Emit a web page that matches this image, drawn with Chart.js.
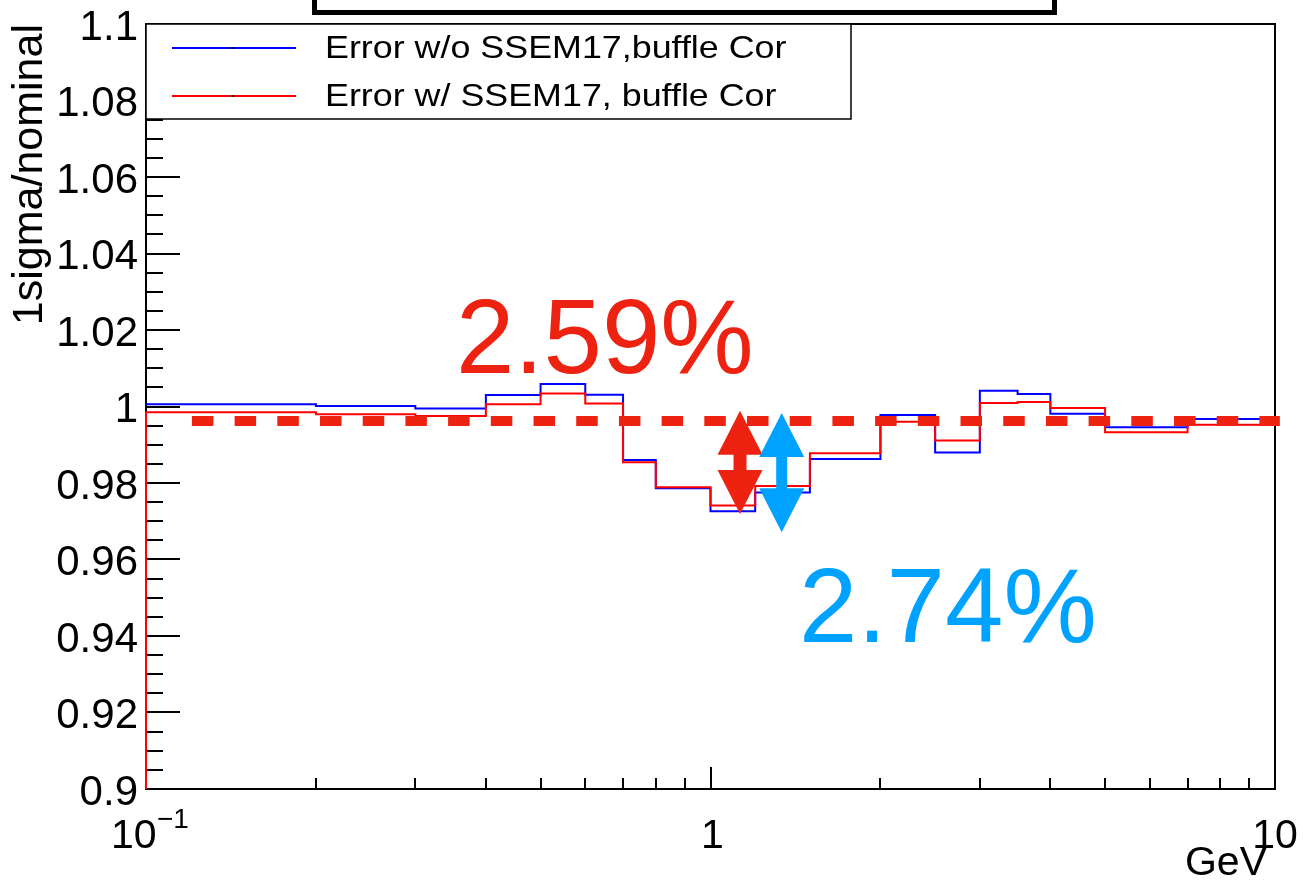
<!DOCTYPE html>
<html>
<head>
<meta charset="utf-8">
<title>1sigma/nominal</title>
<script src="https://cdn.jsdelivr.net/npm/chart.js@4.4.1/dist/chart.umd.min.js"></script>
<style>
  html, body { margin: 0; padding: 0; background: #fff; }
  #graphe { display: block; }
</style>
</head>
<body>
<canvas id="graphe" width="1303" height="880"></canvas>
<script>
// bin edges in GeV, then 1sigma/nominal for each bin
const edges = [0.1, 0.2, 0.3, 0.4, 0.5, 0.6, 0.7, 0.8, 1.0, 1.2, 1.5, 2.0, 2.5, 3.0, 3.5, 4.0, 5.0, 7.0, 10.0]
const without_ssem = [1.0006, 1.0001, 0.9995, 1.0030, 1.0059, 1.0031, 0.9860, 0.9786, 0.9726, 0.9775, 0.9863, 0.9978, 0.9880, 1.0041, 1.0033, 0.9981, 0.9946, 0.9967]
const with_ssem = [0.9985, 0.9980, 0.9975, 1.0006, 1.0034, 1.0008, 0.9854, 0.9789, 0.9741, 0.9792, 0.9878, 0.9960, 0.9911, 1.0009, 1.0012, 0.9996, 0.9933, 0.9952]
const series_names = ['Error w/o SSEM17,buffle Cor', 'Error w/ SSEM17, buffle Cor']

const y_min = 0.9
const y_max = 1.1
const x_minor_ticks = [0.2, 0.3, 0.4, 0.5, 0.6, 0.7, 0.8, 0.9, 2, 3, 4, 5, 6, 7, 8, 9]
const x_major_ticks = [1]
const x_tick_labels = [
    { value: 0.1, text: '10', sup: '\u22121' },
    { value: 1, text: '1', sup: '' },
    { value: 10, text: '10', sup: '' }
]

// reference level (dashed) and the two spreads written on the plot
const ref_level = 0.9962
const spread_labels = ['2.59%', '2.74%']

const font = '"Liberation Sans", Arial, Helvetica, sans-serif'
const red = '#ff0000'
const blue = '#0000ff'
const note_red = '#ee2211'
const note_blue = '#00a2ff'

function histo(values, from_bottom) {
    const pts = []
    if (from_bottom) pts.push({ x: edges[0], y: y_min })
    values.forEach((v, i) => pts.push({ x: edges[i], y: v }))
    pts.push({ x: edges[edges.length - 1], y: values[values.length - 1] })
    return pts
}

function line(ctx, x1, y1, x2, y2) {
    ctx.beginPath()
    ctx.moveTo(x1, y1)
    ctx.lineTo(x2, y2)
    ctx.stroke()
}

// vertical double arrow between two y values, at x value xv
function double_arrow(ctx, sx, sy, xv, y_top, y_bot, color, shaft) {
    const cx = sx.getPixelForValue(xv)
    const y1 = sy.getPixelForValue(y_top)
    const y2 = sy.getPixelForValue(y_bot)
    const hl = 44, hw = 22.5
    ctx.fillStyle = color
    ctx.beginPath()
    ctx.moveTo(cx, y1)
    ctx.lineTo(cx + hw, y1 + hl)
    ctx.lineTo(cx + shaft, y1 + hl)
    ctx.lineTo(cx + shaft, y2 - hl)
    ctx.lineTo(cx + hw, y2 - hl)
    ctx.lineTo(cx, y2)
    ctx.lineTo(cx - hw, y2 - hl)
    ctx.lineTo(cx - shaft, y2 - hl)
    ctx.lineTo(cx - shaft, y1 + hl)
    ctx.lineTo(cx - hw, y1 + hl)
    ctx.closePath()
    ctx.fill()
}

const frame_plugin = {
    id: 'frame_plugin',
    beforeDatasetsDraw(chart) {
        const ctx = chart.ctx
        const { left, right, top, bottom } = chart.chartArea
        const sx = chart.scales.x
        const sy = chart.scales.y
        ctx.save()
        ctx.strokeStyle = '#000'
        ctx.lineWidth = 2
        ctx.strokeRect(left, top, right - left, bottom - top)
        // ticks go inside the frame, ROOT style
        sy.ticks.forEach(t => {
            const py = Math.round(sy.getPixelForValue(t.value))
            line(ctx, left, py, left + (t.label ? 34 : 17), py)
        })
        x_minor_ticks.forEach(v => {
            const px = Math.round(sx.getPixelForValue(v))
            line(ctx, px, bottom, px, bottom - 11)
        })
        x_major_ticks.forEach(v => {
            const px = Math.round(sx.getPixelForValue(v))
            line(ctx, px, bottom, px, bottom - 22)
        })
        ctx.restore()
    },
    afterDatasetsDraw(chart) {
        const ctx = chart.ctx
        const { left, top, bottom } = chart.chartArea
        const sx = chart.scales.x
        const sy = chart.scales.y
        ctx.save()

        // dashed level
        const yl = sy.getPixelForValue(ref_level)
        ctx.strokeStyle = note_red
        ctx.lineWidth = 10
        ctx.setLineDash([21.5, 21.2])
        line(ctx, sx.getPixelForValue(0.1206), yl, sx.getPixelForValue(10.2), yl)
        ctx.setLineDash([])

        double_arrow(ctx, sx, sy, 1.128, 0.9989, 0.9719, note_red, 6.5)
        double_arrow(ctx, sx, sy, 1.337, 0.9983, 0.9671, note_blue, 5.5)

        ctx.font = '105px ' + font
        ctx.textAlign = 'left'
        ctx.textBaseline = 'alphabetic'
        ctx.fillStyle = note_red
        ctx.fillText(spread_labels[0], sx.getPixelForValue(0.354), sy.getPixelForValue(1.0088))
        ctx.fillStyle = note_blue
        ctx.fillText(spread_labels[1], sx.getPixelForValue(1.435), sy.getPixelForValue(0.9385))

        // legend box in the top left corner of the frame
        ctx.fillStyle = '#fff'
        ctx.fillRect(left, top, 705, 95)
        ctx.strokeStyle = '#000'
        ctx.lineWidth = 1.5
        ctx.strokeRect(left, top, 705, 95)
        chart.data.datasets.forEach((ds, i) => {
            const yy = top + 24 + i * 48
            ctx.strokeStyle = ds.borderColor
            ctx.lineWidth = 2
            line(ctx, left + 26, yy, left + 150, yy)
            ctx.fillStyle = '#000'
            ctx.fillRect(left + 86, yy - 1, 2, 2)
            ctx.save()
            ctx.translate(left + 179, yy + 10)
            ctx.scale(1.12, 1)
            ctx.font = '32px ' + font
            ctx.fillText(ds.label, 0, 0)
            ctx.restore()
        })

        // title box, cut by the top of the canvas
        ctx.strokeStyle = '#000'
        ctx.lineWidth = 5
        ctx.strokeRect(314.5, -20, 740, 32.5)

        // x labels
        ctx.fillStyle = '#000'
        ctx.textBaseline = 'alphabetic'
        x_tick_labels.forEach(l => {
            const px = sx.getPixelForValue(l.value)
            ctx.font = '41px ' + font
            if (l.sup) {
                ctx.textAlign = 'left'
                ctx.fillText(l.text, px - 35, bottom + 59)
                ctx.font = '28px ' + font
                ctx.fillText(l.sup, px + 11, bottom + 39)
            } else {
                ctx.textAlign = 'center'
                ctx.fillText(l.text, px + (l.value === 1 ? 2 : 0), bottom + 59)
            }
        })
        ctx.font = '41px ' + font
        ctx.textAlign = 'right'
        ctx.fillText('GeV', chart.chartArea.right - 8, bottom + 86)

        ctx.restore()
    }
}

Chart.defaults.font.family = font
Chart.defaults.color = '#000'

// keep the plot frame where the layout padding puts it
function no_overflow(scale) {
    scale.paddingTop = 0
    scale.paddingBottom = 0
    scale.paddingLeft = 0
    scale.paddingRight = 0
}

const ctx = document.getElementById('graphe').getContext('2d')
const myChart = new Chart(ctx, {
    type: 'line',
    data: {
        datasets: [{
            label: series_names[0],
            data: histo(without_ssem, false),
            borderColor: blue,
            borderWidth: 2,
            stepped: 'before',
            pointRadius: 0,
            fill: false,
            clip: 3,
            order: 2
        },
        {
            label: series_names[1],
            data: histo(with_ssem, true),
            borderColor: red,
            borderWidth: 2,
            stepped: 'before',
            pointRadius: 0,
            fill: false,
            clip: 3,
            order: 1
        }]
    },
    options: {
        responsive: false,
        animation: false,
        devicePixelRatio: 1,
        layout: {
            padding: { left: 0, top: 24, right: 28, bottom: 0 }
        },
        plugins: {
            legend: { display: false },
            tooltip: { enabled: false }
        },
        scales: {
            x: {
                type: 'logarithmic',
                min: 0.1,
                max: 10,
                grid: { display: false, drawTicks: false },
                border: { display: false },
                ticks: { display: false },
                afterFit: (scale) => {
                    scale.height = 91
                    no_overflow(scale)
                }
            },
            y: {
                type: 'linear',
                min: y_min,
                max: y_max,
                grid: { display: false, drawTicks: false },
                border: { display: false },
                ticks: {
                    stepSize: 0.005,
                    autoSkip: false,
                    padding: 8,
                    labelOffset: 4,
                    font: { size: 42 },
                    color: '#000',
                    callback: (value) => {
                        const r = Math.round(value * 50)
                        if (Math.abs(value * 50 - r) > 1e-6) return ''
                        return Number((r / 50).toFixed(2)).toString()
                    }
                },
                title: {
                    display: true,
                    text: '1sigma/nominal',
                    align: 'end',
                    color: '#000',
                    font: { size: 43 },
                    padding: { top: 4, bottom: 0 }
                },
                afterFit: (scale) => {
                    scale.width = 146
                    no_overflow(scale)
                }
            }
        }
    },
    plugins: [frame_plugin]
})
</script>
</body>
</html>
